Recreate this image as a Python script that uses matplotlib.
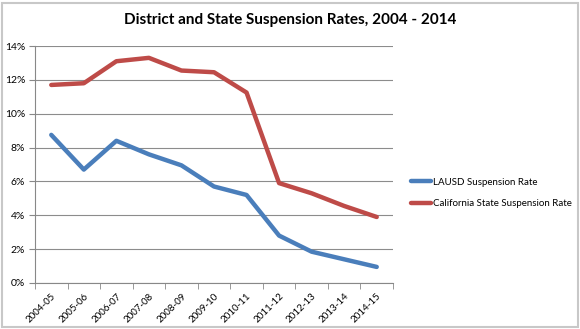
import numpy as np
import matplotlib
matplotlib.use("Agg")
import matplotlib.pyplot as plt
from matplotlib.patches import Rectangle
from matplotlib.ticker import PercentFormatter

years = ['2004-05', '2005-06', '2006-07', '2007-08', '2008-09', '2009-10',
         '2010-11', '2011-12', '2012-13', '2013-14', '2014-15']
lausd = [8.75, 6.7, 8.4, 7.6, 6.95, 5.7, 5.2, 2.8, 1.85, 1.4, 0.95]
state = [11.7, 11.8, 13.1, 13.3, 12.55, 12.45, 11.25, 5.9, 5.3, 4.55, 3.9]

plt.rcParams['font.family'] = ['Lato', 'DejaVu Sans']

fig = plt.figure(figsize=(5.8, 3.29), dpi=100)
ax = fig.add_axes([35 / 580, 1 - 283 / 329, 358 / 580, 237 / 329])

x = np.arange(len(years))
ax.plot(x, lausd, color='#4a7ebb', lw=3.2, label='LAUSD Suspension Rate',
        solid_capstyle='round', solid_joinstyle='round')
ax.plot(x, state, color='#be4b48', lw=3.2, label='California State Suspension Rate',
        solid_capstyle='round', solid_joinstyle='round')

ax.set_xlim(-0.5, len(years) - 0.5)
ax.set_ylim(0, 14)
ax.set_yticks(np.arange(0, 15, 2))
ax.yaxis.set_major_formatter(PercentFormatter(decimals=0))
ax.set_xticks(x)
ax.set_xticklabels(years, rotation=45, ha='right', rotation_mode='anchor', fontsize=7)
ax.tick_params(axis='x', length=0, pad=6)
ax.set_xticks(np.arange(-0.5, len(years)), minor=True)
ax.tick_params(axis='x', which='minor', length=4, color='#888888', direction='out')
ax.tick_params(axis='y', labelsize=7.5, length=4, color='#888888', pad=3)
ax.grid(axis='y', color='#8c8c8c', lw=0.8)
ax.set_axisbelow(True)
for s in ['top', 'right']:
    ax.spines[s].set_visible(False)
for s in ['left', 'bottom']:
    ax.spines[s].set_color('#888888')
    ax.spines[s].set_linewidth(0.8)

fig.legend(loc='upper left', bbox_to_anchor=(402 / 580, 1 - 169 / 329),
           frameon=False, fontsize=7, handlelength=2.1, handletextpad=0.2,
           labelspacing=1.3)

fig.text(0.5, 1 - 20 / 329, 'District and State Suspension Rates, 2004 - 2014',
         ha='center', va='center', fontsize=11, fontweight='bold')

fig.patches.append(Rectangle((2 / 580, 2 / 329), 576 / 580, 324 / 329,
                             transform=fig.transFigure, fill=False,
                             edgecolor='#c8c8c8', lw=1.5))

fig.savefig('out.png', dpi=100)
